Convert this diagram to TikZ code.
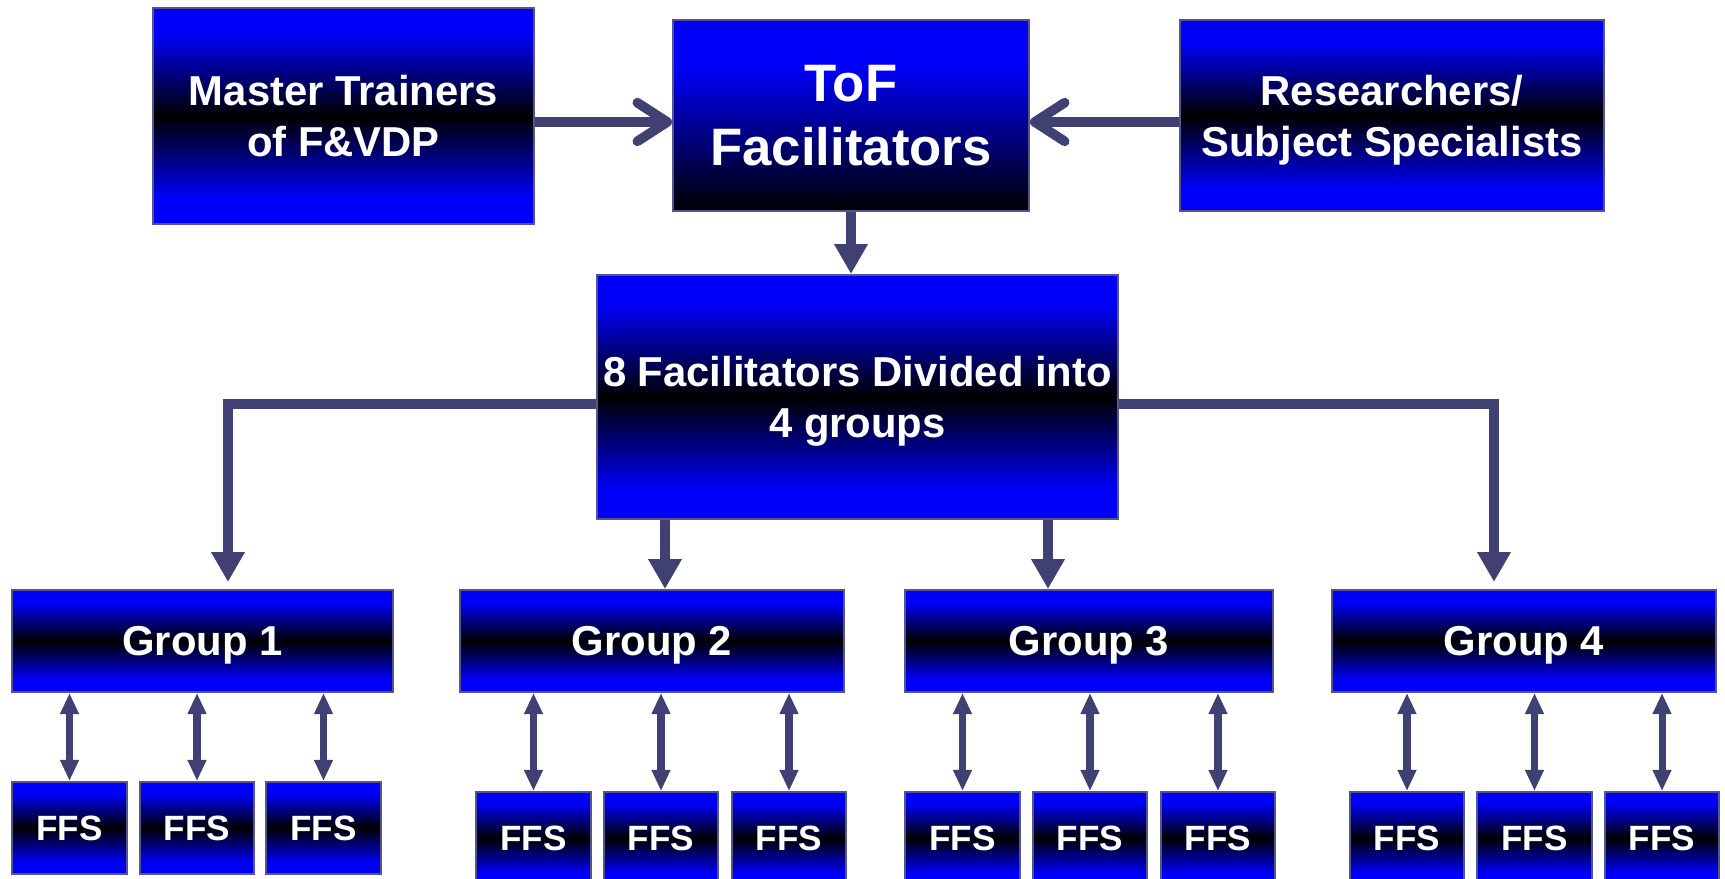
\documentclass[tikz,border=0pt]{standalone}
\usepackage{fontspec}
\setmainfont{Liberation Sans}
\usetikzlibrary{arrows.meta}
\definecolor{bblue}{RGB}{0,0,250}
\definecolor{edgec}{RGB}{85,85,140}
\definecolor{arr}{RGB}{64,64,115}
\pgfdeclareverticalshading{band}{100bp}{color(0bp)=(bblue); color(25bp)=(bblue); color(31bp)=(bblue); color(50bp)=(black); color(69bp)=(bblue); color(75bp)=(bblue); color(100bp)=(bblue)}
\pgfdeclareverticalshading{tofband}{100bp}{color(0bp)=(black); color(25bp)=(black); color(63bp)=(bblue); color(75bp)=(bblue); color(100bp)=(bblue)}
\newcommand\pbox[7]{\node[#1, minimum width={(#5-#3)*0.02cm}, minimum height={(#6-#4)*0.02cm}] (#2) at ({(#3+#5)/2},{(#4+#6)/2}) {#7};}
\tikzset{
  box/.style={draw=edgec, line width=1.1pt, shade, shading=band, text=white, align=center, inner sep=0pt,
    text depth=0pt, font=\bfseries\fontsize{23.8}{29.2}\selectfont},
  tofbox/.style={box, shading=tofband, font=\bfseries\fontsize{30}{36.5}\selectfont},
  ffsbox/.style={box, font=\bfseries\fontsize{20}{24}\selectfont},
  big/.style={draw=arr, line width=5.5pt, -{Triangle[length=17pt,width=18pt]}},
  barb/.style={draw=arr, line width=5.5pt, -{Straight Barb[length=17pt,width=22pt,round]}},
  dbl/.style={draw=arr, line width=4pt, {Triangle[length=12pt,width=10pt]}-{Triangle[length=12pt,width=10pt]}}
}
\begin{document}
\begin{tikzpicture}[x=0.02cm, y=-0.02cm]
\useasboundingbox (0,0) rectangle (1725,879);
\clip (0,0) rectangle (1725,879);
\pbox{box}{master}{153}{8}{534}{224}{Master Trainers\\of F\&VDP}
\pbox{tofbox}{tof}{673}{20}{1029}{211}{ToF\\Facilitators}
\pbox{box}{res}{1180}{20}{1604}{211}{Researchers/\\Subject Specialists}
\pbox{box}{fac}{597}{275}{1118}{519}{8 Facilitators Divided into\\4 groups}
\pbox{box}{g1}{12}{590}{393}{692}{Group 1}
\pbox{box}{g2}{460}{590}{844}{692}{Group 2}
\pbox{box}{g3}{905}{590}{1273}{692}{Group 3}
\pbox{box}{g4}{1332}{590}{1716}{692}{Group 4}
\pbox{ffsbox}{f11}{12}{782}{127}{874}{FFS}
\pbox{ffsbox}{f12}{140}{782}{254}{874}{FFS}
\pbox{ffsbox}{f13}{266}{782}{381}{874}{FFS}
\pbox{ffsbox}{f21}{476}{792}{591}{884}{FFS}
\pbox{ffsbox}{f22}{604}{792}{718}{884}{FFS}
\pbox{ffsbox}{f23}{732}{792}{846}{884}{FFS}
\pbox{ffsbox}{f31}{905}{792}{1020}{884}{FFS}
\pbox{ffsbox}{f32}{1033}{792}{1147}{884}{FFS}
\pbox{ffsbox}{f33}{1161}{792}{1275}{884}{FFS}
\pbox{ffsbox}{f41}{1350}{792}{1464}{884}{FFS}
\pbox{ffsbox}{f42}{1477}{792}{1592}{884}{FFS}
\pbox{ffsbox}{f43}{1605}{792}{1719}{884}{FFS}
\coordinate (hy) at (0,122);
\draw[barb] (master.east |- hy) -- (tof.west |- hy);
\draw[barb] (res.west |- hy) -- (tof.east |- hy);
\draw[big] (tof.south) -- (tof.south |- fac.north);
\coordinate (bl) at (228,404);
\coordinate (br) at (1494,404);
\coordinate (a2) at (665,0);
\coordinate (a3) at (1048,0);
\draw[big, shorten >=4pt] (fac.west |- bl) -- (bl) -- (bl |- g1.north);
\draw[big, shorten >=4pt] (fac.east |- br) -- (br) -- (br |- g4.north);
\draw[big] (fac.south -| a2) -- (a2 |- g2.north);
\draw[big] (fac.south -| a3) -- (a3 |- g3.north);
\foreach \g in {1,2,3,4}{
  \foreach \k in {1,2,3}{
    \draw[dbl] (f\g\k.north) -- (f\g\k.north |- g\g.south);
  }
}
\end{tikzpicture}
\end{document}
